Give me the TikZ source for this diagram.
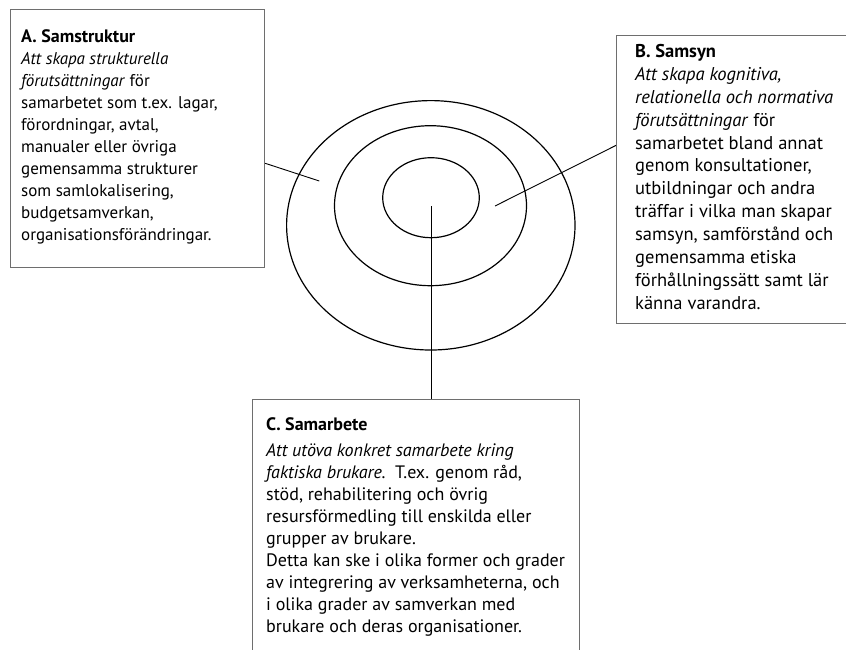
\documentclass[tikz,border=0pt]{standalone}
\usepackage{fontspec}
\setmainfont{PT Sans}
\usetikzlibrary{shapes.geometric,calc}
\definecolor{boxgray}{HTML}{6E6E6E}
\begin{document}
\begin{tikzpicture}[x=1pt,y=-1pt,
  box/.style={draw=boxgray, line width=1.2pt, anchor=north west, inner sep=0pt},
  ring/.style={draw=black, ellipse, line width=1.2pt, inner sep=0pt},
  leader/.style={draw=black, line width=0.9pt},
  txt/.style={anchor=north west, inner sep=0pt, align=left}]
\useasboundingbox (0,0) rectangle (846,649);
\clip (0,0) rectangle (846,649);
% boxes
\node[box, minimum width=254pt, minimum height=257.7pt] (A) at (10,9) {};
\node[box, minimum width=229.5pt, minimum height=287.7pt] (B) at (616,35) {};
\node[box, minimum width=327pt, minimum height=280pt] (C) at (252,399) {};
% rings
\node[ring, minimum width=288.4pt, minimum height=249.4pt] (outer) at (430.8,225.3) {};
\node[ring, minimum width=192pt, minimum height=160pt] (middle) at (430.5,205.7) {};
\node[ring, minimum width=96.6pt, minimum height=80pt] (inner) at (431,197.7) {};
% leader ends
\coordinate (aend) at (319.3,181);
\coordinate (bend) at (495,206);
\coordinate (cend) at (431,206);
\draw[leader] ($(A.north east)!0.596!(A.south east)$) -- (aend);
\draw[leader] ($(B.north west)!0.382!(B.south west)$) -- (bend);
\draw[leader] (cend) -- (cend |- C.north);
% texts
\node[txt, font=\fontsize{17}{22}\selectfont] (At) at (21,29.5) {\textbf{\fontsize{18}{22}\selectfont A. Samstruktur}\\
\textit{Att skapa strukturella}\\
\textit{förutsättningar} för\\
samarbetet som t.ex. lagar,\\
förordningar, avtal,\\
manualer eller övriga\\
gemensamma strukturer\\
som samlokalisering,\\
budgetsamverkan,\\
organisationsförändringar.};
\node[txt, font=\fontsize{18.5}{22.9}\selectfont] (Bt) at (635,44) {\textbf{B. Samsyn}\\
\textit{Att skapa kognitiva,}\\
\textit{relationella och normativa}\\
\textit{förutsättningar} för\\
samarbetet bland annat\\
genom konsultationer,\\
utbildningar och andra\\
träffar i vilka man skapar\\
samsyn, samförstånd och\\
gemensamma etiska\\
förhållningssätt samt lär\\
känna varandra.};
\node[txt, font=\fontsize{18}{22}\selectfont] (Ct) at (266,417) {\textbf{C. Samarbete}\\[4pt]
\textit{Att utöva konkret samarbete kring}\\
\textit{faktiska brukare.}\ \ T.ex. genom råd,\\
stöd, rehabilitering och övrig\\
resursförmedling till enskilda eller\\
grupper av brukare.\\
Detta kan ske i olika former och grader\\
av integrering av verksamheterna, och\\
i olika grader av samverkan med\\
brukare och deras organisationer.};
\end{tikzpicture}
\end{document}
